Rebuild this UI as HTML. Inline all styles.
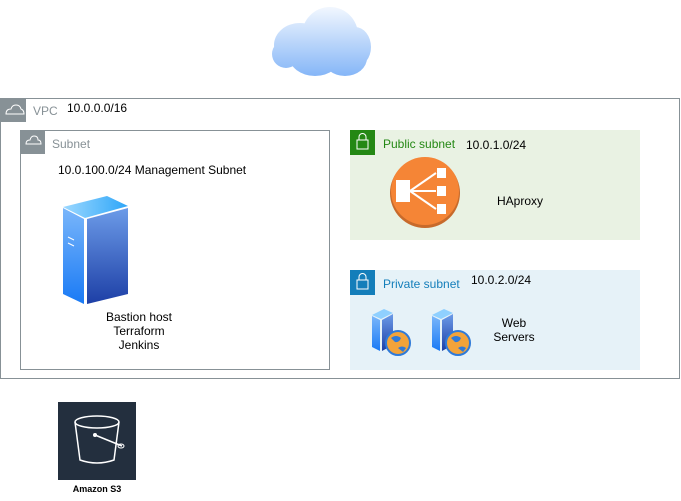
<!DOCTYPE html>
<html><head><meta charset="utf-8"><style>
body{margin:0;width:681px;height:501px;background:#fff;position:relative;overflow:hidden;font-family:"Liberation Sans",sans-serif;}
.a{position:absolute;}
.t{position:absolute;font-size:12px;color:#000;white-space:nowrap;}
</style></head><body>
<svg class="a" style="left:0;top:0" width="681" height="501">
<defs>
<linearGradient id="cl" gradientUnits="userSpaceOnUse" x1="0" y1="8" x2="0" y2="78"><stop offset="0" stop-color="#f0f6fe"/><stop offset="1" stop-color="#82b4f7"/></linearGradient>
<linearGradient id="sf" x1="0" y1="0" x2="0" y2="1"><stop offset="0" stop-color="#7ab6fa"/><stop offset="1" stop-color="#1a7af5"/></linearGradient>
<linearGradient id="sr" x1="0" y1="0" x2="0" y2="1"><stop offset="0" stop-color="#6c9be8"/><stop offset="1" stop-color="#1d3fa6"/></linearGradient>
<linearGradient id="st" x1="0" y1="0" x2="1" y2="0"><stop offset="0" stop-color="#9cd8ff"/><stop offset="1" stop-color="#2ea6f8"/></linearGradient>
</defs>
<!-- cloud -->
<g fill="url(#cl)">
<ellipse cx="300" cy="45" rx="26" ry="22"/><ellipse cx="330" cy="35" rx="28" ry="28"/><ellipse cx="355" cy="47" rx="16" ry="20"/>
<ellipse cx="286" cy="54" rx="14" ry="14"/><ellipse cx="315" cy="56" rx="26" ry="20"/><ellipse cx="345" cy="58" rx="22" ry="18"/>
</g>
<!-- VPC -->
<rect x="0.5" y="98.5" width="679" height="280" fill="none" stroke="#879196"/>
<rect x="0" y="98" width="26" height="24" fill="#879196"/>
<path d="M6 114 q0-5 5-5 q1-4 5-4 q4 0 5 4 q3 1 3 5 z" fill="none" stroke="#fff" stroke-width="1"/>
<!-- Subnet -->
<rect x="20.5" y="130.5" width="309" height="239" fill="none" stroke="#879196"/>
<rect x="20" y="130" width="25" height="24" fill="#879196"/>
<path d="M26 144 q0-4 4-4 q1-4 4-4 q4 0 4 4 q3 0 3 4 z" fill="none" stroke="#fff"/>
<!-- Public subnet -->
<rect x="350" y="130" width="290" height="110" fill="#e9f2e3"/>
<rect x="350" y="130" width="25" height="25" fill="#248814"/>
<rect x="357" y="140" width="11" height="9" fill="none" stroke="#fff"/><path d="M359 140 v-3 a3.5 3.5 0 0 1 7 0 v3" fill="none" stroke="#fff"/>
<!-- Private subnet -->
<rect x="350" y="270" width="290" height="100" fill="#e6f2f8"/>
<rect x="350" y="270" width="25" height="25" fill="#147eba"/>
<rect x="357" y="280" width="11" height="9" fill="none" stroke="#fff"/><path d="M359 280 v-3 a3.5 3.5 0 0 1 7 0 v3" fill="none" stroke="#fff"/>
<!-- bastion server -->
<polygon points="63,207 107,196 128,206 85,218" fill="url(#st)"/>
<polygon points="63,208 84,219 84,304 63,294" fill="url(#sf)"/>
<polygon points="87,219 128,208 128,294 87,304" fill="url(#sr)"/>
<path d="M68 237 l6 3 M68 243 l6 3" stroke="#fff"/>
<!-- LB -->
<circle cx="425" cy="193" r="35" fill="#c76a2b"/>
<circle cx="425" cy="191" r="34" fill="#f58536"/>
<rect x="396" y="180" width="14" height="22" fill="#fff"/>
<rect x="437" y="168" width="9" height="10" fill="#fff"/><rect x="437" y="186" width="9" height="10" fill="#fff"/><rect x="437" y="204" width="9" height="10" fill="#fff"/>
<path d="M410 191 L436 173 M410 191 L436 191 M410 191 L436 209" stroke="#fff" stroke-width="2"/>
<!-- web servers -->
<g id="ws">
<polygon points="372,315 384,309 393,313 381,319" fill="#8fd0ff"/>
<polygon points="372,316 380,320 380,351 372,347" fill="url(#sf)"/>
<polygon points="382,320 393,314 393,345 382,351" fill="url(#sr)"/>
<circle cx="398" cy="343" r="12" fill="#f2a33a"/><circle cx="398" cy="343" r="12" fill="none" stroke="#2f7ad8" stroke-width="2"/>
<path d="M391 338 q5 -4 10 0 q-2 5 -6 4z M398 348 q4 -3 8 0 l-3 4z" fill="#2f7ad8"/>
</g>
<use href="#ws" x="60" y="0"/>
<!-- S3 -->
<rect x="58" y="402" width="78" height="78" fill="#232f3e"/>
<ellipse cx="97" cy="422" rx="22" ry="6" fill="none" stroke="#fff" stroke-width="1.5"/>
<path d="M75 422 L80 460 Q97 466 114 460 L119 422" fill="none" stroke="#fff" stroke-width="1.5"/>
<path d="M95 435 L122 446" stroke="#fff" stroke-width="1.5"/><circle cx="95" cy="435" r="2" fill="#fff"/>
<ellipse cx="121" cy="446" rx="3" ry="2" fill="none" stroke="#fff"/>
</svg>
<div class="t" style="left:33px;top:104px;color:#879196;font-size:12px">VPC</div>
<div class="t" style="left:67px;top:101px">10.0.0.0/16</div>
<div class="t" style="left:52px;top:137px;color:#879196">Subnet</div>
<div class="t" style="left:58px;top:163px">10.0.100.0/24 Management Subnet</div>
<div class="t" style="left:100px;top:310px;text-align:center;line-height:14px;width:78px">Bastion host<br>Terraform<br>Jenkins</div>
<div class="t" style="left:383px;top:137px;color:#248814">Public subnet</div>
<div class="t" style="left:466px;top:138px">10.0.1.0/24</div>
<div class="t" style="left:497px;top:194px">HAproxy</div>
<div class="t" style="left:383px;top:277px;color:#147eba">Private subnet</div>
<div class="t" style="left:471px;top:273px">10.0.2.0/24</div>
<div class="t" style="left:486px;top:316px;text-align:center;line-height:14px;width:56px">Web<br>Servers</div>
<div class="t" style="left:67px;top:484px;font-size:9px;font-weight:bold;width:60px;text-align:center">Amazon S3</div>
</body></html>
